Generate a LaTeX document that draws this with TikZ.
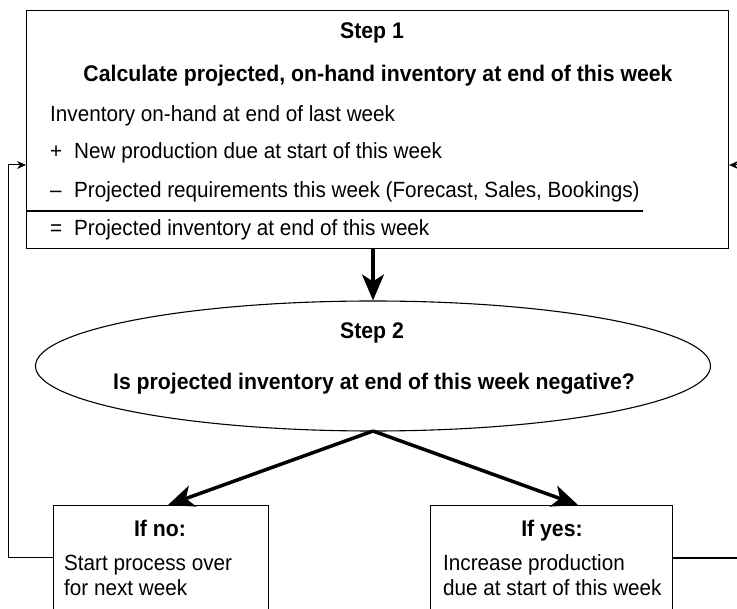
\documentclass[tikz,border=0pt]{standalone}
\usepackage{fontspec}
\setmainfont{Liberation Sans}[FakeStretch=0.94]
\usetikzlibrary{shapes.geometric,arrows.meta}
\begin{document}
\begin{tikzpicture}[x=1pt,y=-1pt,
  box/.style={draw,line width=1.1pt,inner sep=0pt},
  thin/.style={line width=1.1pt},
  big/.style={line width=3.5pt,-{Stealth[length=26pt,width=22pt,inset=7pt]}},
  small/.style={line width=1pt,-{Stealth[length=9pt,width=8pt]}},
  txt/.style={anchor=base west,inner sep=0pt,font=\fontsize{22}{24}\selectfont},
  btxt/.style={anchor=base,inner sep=0pt,font=\fontsize{22.6}{24}\selectfont\bfseries}]
\useasboundingbox (0,0) rectangle (737,609);
% Step 1 box
\node[box,minimum width=702pt,minimum height=238pt,anchor=north west] (s1) at (26,10) {};
\node[btxt] (t1) at (372,39) {Step 1};
\node[btxt] (t2) at (378,82) {Calculate projected, on-hand inventory at end of this week};
\node[txt] (l1) at (50,122) {Inventory on-hand at end of last week};
\node[txt] (p1) at (50,159) {+};
\node[txt] (l2) at (74,159) {New production due at start of this week};
\node[txt] (p2) at (50,198) {–};
\node[txt] (l3) at (74,198) {Projected requirements this week (Forecast, Sales, Bookings)};
\node[txt] (p3) at (50,236) {=};
\node[txt] (l4) at (74,236) {Projected inventory at end of this week};
\coordinate (ua) at (27,211);
\coordinate (ub) at (643,211);
\draw[thin] (ua) -- (ub);
% Step 2 ellipse
\node[ellipse,draw,line width=1.1pt,minimum width=675pt,minimum height=130pt,inner sep=0pt] (s2) at (373,366) {};
\node[btxt] (t3) at (372,339) {Step 2};
\node[btxt] (t4) at (374,390) {Is projected inventory at end of this week negative?};
\draw[big] (s1.south -| s2.north) -- (s2.north);
% bottom boxes
\node[box,minimum width=215pt,minimum height=115pt,anchor=north west] (bn) at (53,505) {};
\node[box,minimum width=242pt,minimum height=115pt,anchor=north west] (by) at (430,505) {};
\node[btxt] (n1) at (160,537) {If no:};
\node[txt] (n2) at (64,571) {Start process over};
\node[txt] (n3) at (64,596) {for next week};
\node[btxt] (y1) at (552,537) {If yes:};
\node[txt] (y2) at (443,571) {Increase production};
\node[txt] (y3) at (443,596) {due at start of this week};
\coordinate (eb) at (373,431);
\draw[big] (eb) -- (168,505);
\draw[big] (eb) -- (578,505);
% loops
\coordinate (lc) at (8,558);
\coordinate (lt) at (8,165);
\draw[small] (bn.west |- lc) -- (lc) -- (lt) -- (s1.west |- lt);
\coordinate (rc) at (740,558);
\coordinate (rt) at (740,165);
\draw[thin] (by.east |- rc) -- (rc);
\draw[small] (rt) -- (s1.east |- rt);
\end{tikzpicture}
\end{document}
